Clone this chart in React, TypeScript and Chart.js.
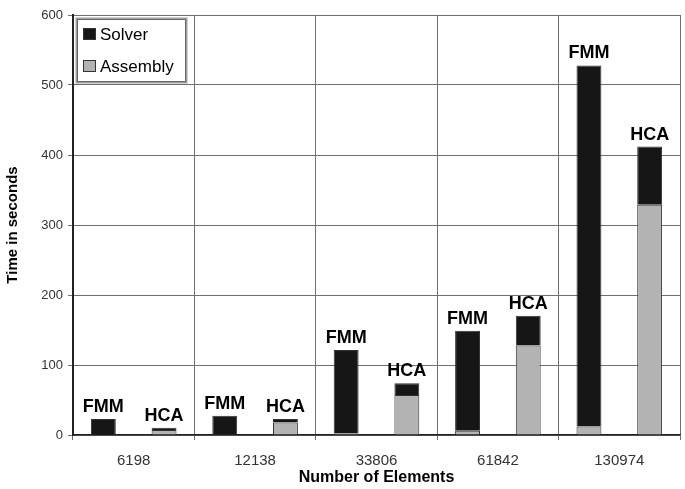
import React, { useEffect, useRef } from 'react';
import { Chart, registerables } from 'chart.js';

Chart.register(...registerables);

const categories = ['6198', '12138', '33806', '61842', '130974'];
const fmmAssembly = [0.5, 1, 2, 6, 12];
const fmmSolver = [22.5, 26.5, 119.5, 143, 516];
const hcaAssembly = [7, 18, 57, 128, 329];
const hcaSolver = [3.5, 5, 17, 42.5, 83];
const stackNames = ['FMM', 'HCA'];
const legendLabels = ['Solver', 'Assembly'];
const yMin = 0;
const yMax = 600;
const yStep = 100;

const FONT = "'Liberation Sans', Arial, Helvetica, sans-serif";
const SOLVER_COLOR = '#161616';
const ASSEMBLY_COLOR = '#b3b3b3';

const annotatePlugin = {
  id: 'annotate',
  afterDatasetsDraw(chart: any) {
    const ctx = chart.ctx;
    ctx.save();
    ctx.font = `bold 18px ${FONT}`;
    ctx.fillStyle = '#000';
    ctx.textAlign = 'center';
    ctx.textBaseline = 'alphabetic';
    const topDatasets = [1, 3];
    topDatasets.forEach((dsIndex, s) => {
      const meta = chart.getDatasetMeta(dsIndex);
      meta.data.forEach((bar: any) => {
        ctx.fillText(stackNames[s], bar.x, bar.y - 7);
      });
    });
    ctx.restore();

    const area = chart.chartArea;
    const bx = area.left + 3;
    const by = area.top + 3;
    const bw = 110;
    const bh = 64;
    ctx.save();
    ctx.fillStyle = '#fff';
    ctx.fillRect(bx, by, bw, bh);
    ctx.strokeStyle = '#a0a0a0';
    ctx.lineWidth = 2;
    ctx.strokeRect(bx + 0.5, by + 0.5, bw, bh);
    ctx.strokeStyle = '#666';
    ctx.lineWidth = 1;
    ctx.strokeRect(bx + 1.5, by + 1.5, bw - 2, bh - 2);
    const colors = [SOLVER_COLOR, ASSEMBLY_COLOR];
    ctx.font = `17px ${FONT}`;
    ctx.textAlign = 'left';
    ctx.textBaseline = 'middle';
    legendLabels.forEach((lab, i) => {
      const cy = by + 16 + i * 32;
      ctx.fillStyle = colors[i];
      ctx.fillRect(bx + 7, cy - 6, 13, 12);
      ctx.strokeStyle = '#333';
      ctx.lineWidth = 1;
      ctx.strokeRect(bx + 7.5, cy - 5.5, 12, 11);
      ctx.fillStyle = '#000';
      ctx.fillText(lab, bx + 24, cy + 1);
    });
    ctx.restore();
  },
};

export default function App() {
  const ref = useRef<HTMLCanvasElement | null>(null);

  useEffect(() => {
    if (!ref.current) return;
    const barCommon = {
      borderColor: '#333',
      borderWidth: 1,
      categoryPercentage: 1.0,
      barPercentage: 0.41,
    };
    const chart = new Chart(ref.current, {
      type: 'bar',
      data: {
        labels: categories,
        datasets: [
          { label: 'FMM Assembly', data: fmmAssembly, stack: stackNames[0], backgroundColor: ASSEMBLY_COLOR, ...barCommon },
          { label: 'FMM Solver', data: fmmSolver, stack: stackNames[0], backgroundColor: SOLVER_COLOR, ...barCommon },
          { label: 'HCA Assembly', data: hcaAssembly, stack: stackNames[1], backgroundColor: ASSEMBLY_COLOR, ...barCommon },
          { label: 'HCA Solver', data: hcaSolver, stack: stackNames[1], backgroundColor: SOLVER_COLOR, ...barCommon },
        ],
      },
      options: {
        responsive: false,
        animation: false,
        devicePixelRatio: 1,
        layout: { padding: { top: 15, right: 5, left: 0, bottom: 0 } },
        plugins: {
          legend: { display: false },
          tooltip: { enabled: false },
        },
        scales: {
          x: {
            stacked: true,
            afterFit: (scale: any) => { scale.height = 54; },
            grid: { color: '#707070', lineWidth: 1, offset: true, drawTicks: true, tickLength: 5 },
            border: { display: true, color: '#222', width: 1.5 },
            ticks: { color: '#333', font: { family: FONT, size: 15 }, padding: 12 },
            title: {
              display: true,
              text: 'Number of Elements',
              color: '#000',
              font: { family: FONT, size: 16, weight: 'bold' },
              padding: { top: 0, bottom: 2 },
            },
          },
          y: {
            stacked: true,
            min: yMin,
            max: yMax,
            afterFit: (scale: any) => { scale.width = 73; },
            grid: { color: '#707070', lineWidth: 1, drawTicks: true, tickLength: 5 },
            border: { display: true, color: '#222', width: 2 },
            ticks: { stepSize: yStep, color: '#333', font: { family: FONT, size: 13 }, padding: 5 },
            title: {
              display: true,
              text: 'Time in seconds',
              color: '#000',
              font: { family: FONT, size: 15, weight: 'bold' },
              padding: { top: 4, bottom: 0 },
            },
          },
        },
      },
      plugins: [annotatePlugin],
    } as any);
    return () => chart.destroy();
  }, []);

  return (
    <div style={{ position: 'absolute', left: 0, top: 0, width: 685, height: 489, background: '#fff' }}>
      <canvas ref={ref} width={685} height={489} style={{ display: 'block' }} />
    </div>
  );
}
